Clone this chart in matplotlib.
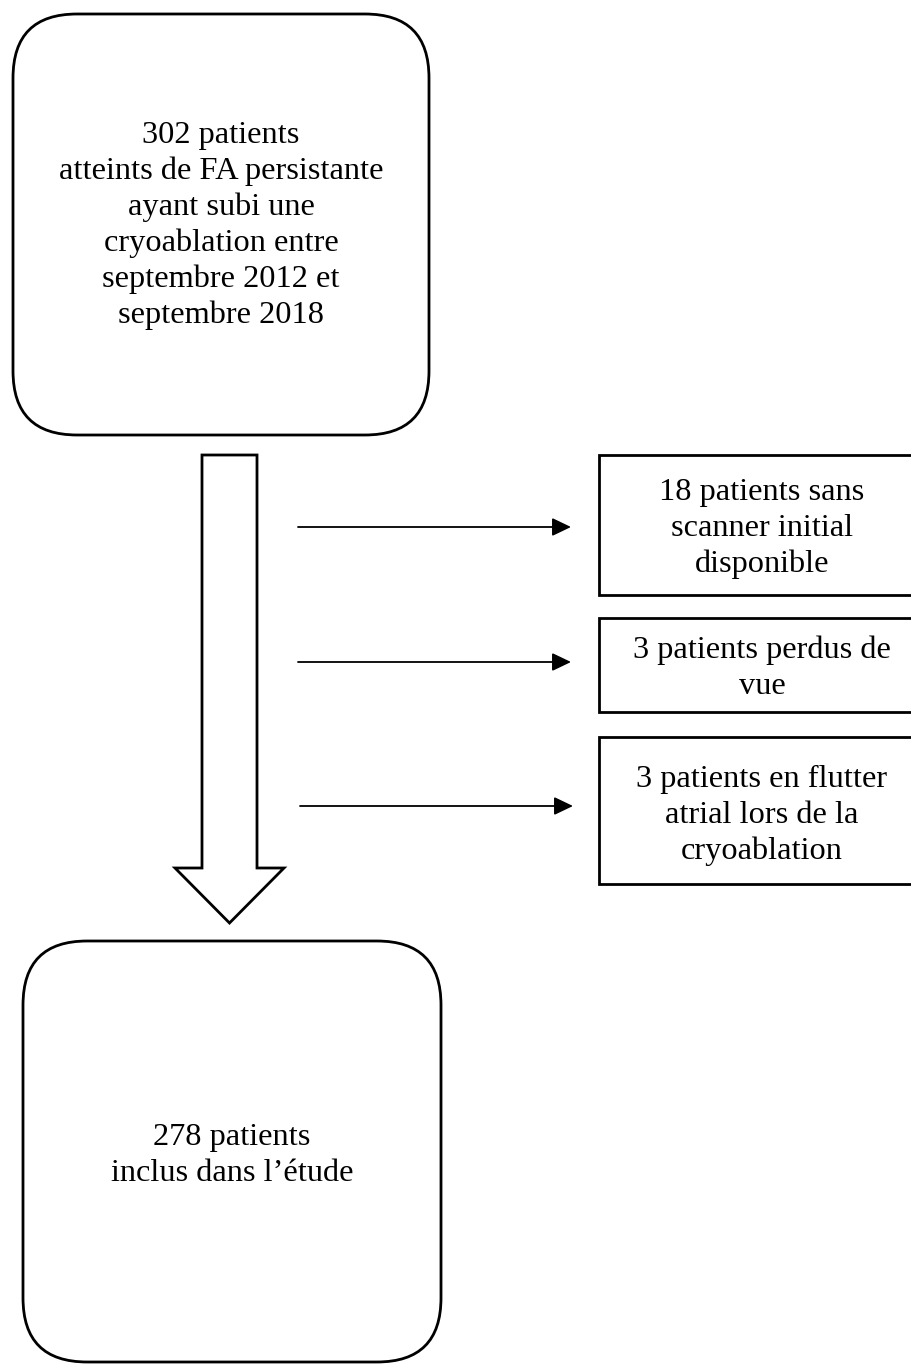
import matplotlib
matplotlib.use("Agg")
import matplotlib.pyplot as plt
from matplotlib.patches import FancyBboxPatch, Rectangle, Polygon

plt.rcParams['font.family'] = ['Liberation Serif', 'DejaVu Serif']

# flow chart content
top_text = ["302 patients", "atteints de FA persistante", "ayant subi une",
            "cryoablation entre", "septembre 2012 et", "septembre 2018"]
bottom_text = ["278 patients", "inclus dans l\u2019\u00e9tude"]
excluded_texts = [
    ["18 patients sans", "scanner initial", "disponible"],
    ["3 patients perdus de", "vue"],
    ["3 patients en flutter", "atrial lors de la", "cryoablation"],
]

# layout in pixels (y down); last value = baseline of first text line
W, H = 912, 1365
top_box = (13, 14, 416, 421, 143)
bottom_box = (23, 941, 418, 421, 1145)
excl_boxes = [(599, 455, 320, 140, 500), (599, 618, 320, 94, 658), (599, 737, 320, 147, 787)]
arrow_rows = [(298, 571, 527), (298, 571, 662), (300, 573, 806)]
fs = 23.3
line_gap = 36


def draw_lines(ax, x, base, lines):
    for i, line in enumerate(lines):
        ax.text(x, base + i * line_gap, line, ha='center', va='baseline', fontsize=fs)


def rounded_box(ax, box, lines, r=64):
    x, y, w, h, base = box
    p = FancyBboxPatch((x + r, y + r), w - 2 * r, h - 2 * r,
                       boxstyle=f"round,pad={r},rounding_size={r}",
                       fc='white', ec='black', lw=2)
    ax.add_patch(p)
    draw_lines(ax, x + w / 2, base, lines)


fig = plt.figure(figsize=(W / 100, H / 100), dpi=100)
ax = fig.add_axes([0, 0, 1, 1])
ax.set_xlim(0, W)
ax.set_ylim(H, 0)
ax.axis('off')

rounded_box(ax, top_box, top_text)
rounded_box(ax, bottom_box, bottom_text)

# big hollow arrow
shaft_l, shaft_r, shaft_top, shaft_bot = 202, 257, 455, 868
head_l, head_r, tip_y = 175, 284, 923
tip_x = (shaft_l + shaft_r) / 2
big_arrow = Polygon([(shaft_l, shaft_top), (shaft_r, shaft_top), (shaft_r, shaft_bot),
                     (head_r, shaft_bot), (tip_x, tip_y), (head_l, shaft_bot),
                     (shaft_l, shaft_bot)], closed=True, fc='white', ec='black', lw=2)
ax.add_patch(big_arrow)

for (x0, x1, y), box, lines in zip(arrow_rows, excl_boxes, excluded_texts):
    ax.annotate("", xy=(x1, y), xytext=(x0, y),
                arrowprops=dict(arrowstyle="-|>,head_length=1.15,head_width=0.55",
                                mutation_scale=10,
                                color='black', lw=1.3, shrinkA=0, shrinkB=0))
    bx, by, bw, bh, base = box
    ax.add_patch(Rectangle((bx, by), bw, bh, fc='white', ec='black', lw=2))
    draw_lines(ax, 762, base, lines)

fig.savefig("out.png", dpi=100)
